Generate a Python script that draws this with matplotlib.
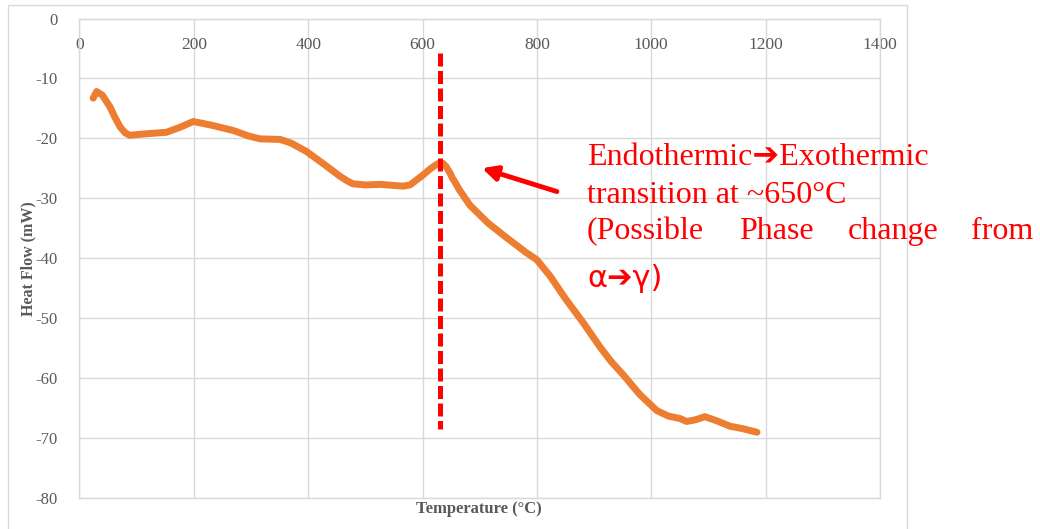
import matplotlib
matplotlib.use('Agg')
import matplotlib.pyplot as plt
from matplotlib.patches import Rectangle

plt.rcParams['axes.unicode_minus'] = False

# DSC trace
temperature = [24, 30, 40, 53, 62, 71, 80, 88, 110, 152, 175, 199, 230, 269, 295, 316, 351,
               370, 397, 430, 455, 468, 478, 500, 526, 566, 578, 585, 600, 615, 624, 630,
               636, 641, 648, 652, 656, 665, 683, 715, 747, 780, 800, 823, 850, 881, 910,
               930, 951, 980, 1000, 1010, 1030, 1050, 1062, 1078, 1094, 1115, 1138, 1160,
               1185]
heat_flow = [-13.3, -12.2, -12.8, -14.7, -16.5, -18.1, -19.1, -19.5, -19.3, -19.0, -18.2,
             -17.2, -17.8, -18.7, -19.6, -20.1, -20.2, -20.8, -22.2, -24.5, -26.3, -27.1,
             -27.6, -27.8, -27.7, -28.0, -27.8, -27.3, -26.2, -25.0, -24.4, -24.1, -24.2,
             -24.7, -25.8, -26.6, -27.2, -28.7, -31.2, -34.2, -36.6, -39.0, -40.3, -43.0,
             -46.8, -50.8, -54.8, -57.3, -59.5, -62.8, -64.6, -65.5, -66.4, -66.8, -67.3,
             -67.0, -66.5, -67.2, -68.1, -68.5, -69.1]

x_ticks = [0, 200, 400, 600, 800, 1000, 1200, 1400]
y_ticks = [0, -10, -20, -30, -40, -50, -60, -70, -80]
transition_t = 630
dashed_span = (-5.7, -68.5)
arrow_tip = (704, -25.0)
arrow_tail = (835, -28.9)

grid_c = '#d9d9d9'
text_c = '#595959'
serif = 'Liberation Serif'

fig = plt.figure(figsize=(10.4, 5.29), dpi=100)
fig.patches.append(Rectangle((8 / 1040, -0.02), 899 / 1040, 1.02 - 5 / 529,
                             transform=fig.transFigure, fill=False,
                             edgecolor=grid_c, linewidth=1))
ax = fig.add_axes([0.0764, 0.0595, 0.7697, 0.9055])

ax.plot(temperature, heat_flow, color='#ED7D31', linewidth=5,
        solid_capstyle='round', solid_joinstyle='round', zorder=3)
ax.plot([transition_t, transition_t], dashed_span, color='red', linewidth=3.6,
        linestyle=(0, (2.6, 0.9)), dash_capstyle='butt', zorder=4)
ax.annotate('', xy=arrow_tip, xytext=arrow_tail,
            arrowprops=dict(arrowstyle='-|>', color='red', lw=3.5,
                            mutation_scale=22, shrinkA=0, shrinkB=0))

ax.set_xlim(0, 1400)
ax.set_ylim(-80, 0)
ax.set_xticks(x_ticks)
ax.set_yticks(y_ticks)
ax.grid(True, color=grid_c, linewidth=1)
ax.set_axisbelow(True)
for s in ax.spines.values():
    s.set_color(grid_c)
    s.set_linewidth(1)
ax.tick_params(axis='x', top=False, bottom=False, labeltop=True, labelbottom=False,
               pad=-28, labelsize=12.5, labelcolor=text_c)
ax.tick_params(axis='y', left=False, pad=12, labelsize=12, labelcolor=text_c)
for lab in ax.get_xticklabels() + ax.get_yticklabels():
    lab.set_fontfamily(serif)

fig.text(28 / 1040, 1 - 258.5 / 529, 'Heat Flow (mW)', rotation=90, ha='center',
         va='center', family=serif, weight='bold', fontsize=11.5, color=text_c)
fig.text(479 / 1040, 1 - 509 / 529, 'Temperature (°C)', ha='center', va='center',
         family=serif, weight='bold', fontsize=12, color=text_c)

fam = [serif, 'DejaVu Sans']
fs = 23
fig.text(587 / 1040, 1 - 165 / 529, 'Endothermic\u2794Exothermic', family=fam,
         fontsize=fs, color='red', va='baseline')
fig.text(587 / 1040, 1 - 202.7 / 529, 'transition at ~650°C', family=fam,
         fontsize=fs, color='red', va='baseline')
for word, px, ha in [('(Possible', 587, 'left'), ('Phase', 739, 'left'),
                     ('change', 848, 'left'), ('from', 1033, 'right')]:
    fig.text(px / 1040, 1 - 239 / 529, word, family=fam, fontsize=fs,
             color='red', va='baseline', ha=ha)
fig.text(587 / 1040, 1 - 286.7 / 529, '\u03b1\u2794\u03b3)',
         family=['DejaVu Sans', serif], fontsize=fs - 1, color='red', va='baseline')

fig.savefig('out.png', dpi=100)
